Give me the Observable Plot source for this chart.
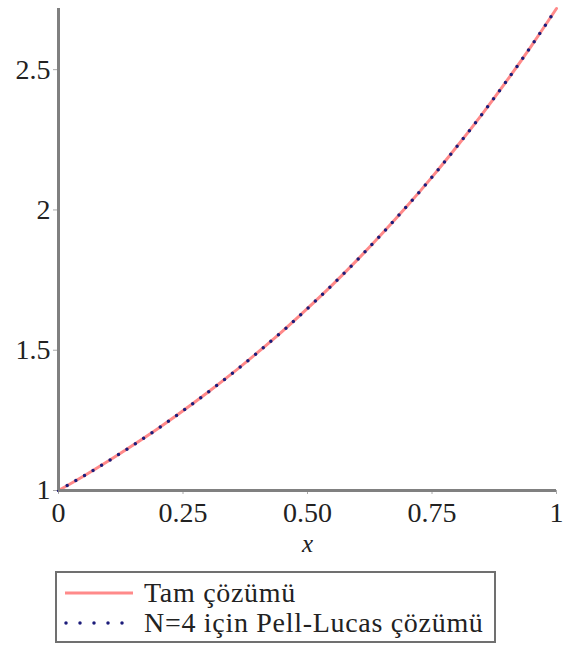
<!DOCTYPE html>
<html>
<head>
<meta charset="utf-8">
<script src="https://cdn.jsdelivr.net/npm/d3@7"></script>
<script src="https://cdn.jsdelivr.net/npm/@observablehq/plot@0.6"></script>
<style>
  body { margin: 0; background: #fff; font-family: "Liberation Serif", serif; }
  #legend { margin-left: 55px; margin-top: 11px; width: 441px; height: 72px; box-sizing: border-box;
            border: 2px solid #707070; padding-top: 5px; }
  .row { display: flex; align-items: center; height: 30px; font-size: 28px; letter-spacing: 0.7px; color: #222; }
  .row svg { margin-left: 6px; margin-right: 9px; }
</style>
</head>
<body>
<div id="chart"></div>
<div id="legend">
  <div class="row"><svg width="72" height="10"><line x1="2" x2="70" y1="5" y2="5" stroke="#ff8a8a" stroke-width="3"/></svg><span>Tam çözümü</span></div>
  <div class="row"><svg width="72" height="10"><line x1="3" x2="70" y1="5" y2="5" stroke="#1c1c7a" stroke-width="3.5" stroke-dasharray="0,14" stroke-linecap="round"/></svg><span>N=4 için Pell-Lucas çözümü</span></div>
</div>
<script>
const xs = [0, 0.05, 0.1, 0.15, 0.2, 0.25, 0.3, 0.35, 0.4, 0.45, 0.5, 0.55, 0.6, 0.65, 0.7, 0.75, 0.8, 0.85, 0.9, 0.95, 1];
const exactY = [1, 1.051, 1.105, 1.162, 1.221, 1.284, 1.350, 1.419, 1.492, 1.568, 1.649, 1.733, 1.822, 1.916, 2.014, 2.117, 2.226, 2.340, 2.460, 2.586, 2.718];
const pellY = [1, 1.051, 1.105, 1.162, 1.221, 1.284, 1.350, 1.419, 1.492, 1.568, 1.649, 1.733, 1.822, 1.916, 2.014, 2.117, 2.226, 2.340, 2.460, 2.586, 2.718];
const xTicks = [0, 0.25, 0.5, 0.75, 1];
const xTickLabels = ["0", "0.25", "0.50", "0.75", "1"];
const yTicks = [1, 1.5, 2, 2.5];
const yTickLabels = ["1", "1.5", "2", "2.5"];
const xLabel = "x";

const exact = xs.map((x, i) => ({x, y: exactY[i]}));
const pell = xs.map((x, i) => ({x, y: pellY[i]}));

const chart = Plot.plot({
  width: 564,
  height: 560,
  marginLeft: 58,
  marginRight: 8,
  marginTop: 8,
  marginBottom: 70,
  style: {fontFamily: "Liberation Serif, serif", fontSize: "28px", color: "#222", background: "#fff"},
  x: {domain: [0, 1]},
  y: {domain: [1, 2.718]},
  marks: [
    Plot.axisX({ticks: xTicks, tickFormat: (d, i) => xTickLabels[i], tickSize: 4, tickPadding: 8, stroke: "#aaa", label: null}),
    Plot.axisY({ticks: yTicks, tickFormat: (d, i) => yTickLabels[i], tickSize: 5, tickPadding: 3, stroke: "#aaa", label: null}),
    Plot.line(exact, {x: "x", y: "y", stroke: "#ff8a8a", strokeWidth: 3, curve: "natural"}),
    Plot.line(pell, {x: "x", y: "y", stroke: "#1c1c7a", strokeWidth: 3.5, strokeDasharray: "0,10", strokeLinecap: "round", curve: "natural"}),
    Plot.ruleX([0], {stroke: "#808080", strokeWidth: 3}),
    Plot.ruleY([1], {stroke: "#808080", strokeWidth: 3}),
    Plot.text([xLabel], {frameAnchor: "bottom", dy: 61, text: d => d, fontStyle: "italic", fontSize: 25})
  ]
});
document.getElementById("chart").appendChild(chart);
</script>
</body>
</html>
